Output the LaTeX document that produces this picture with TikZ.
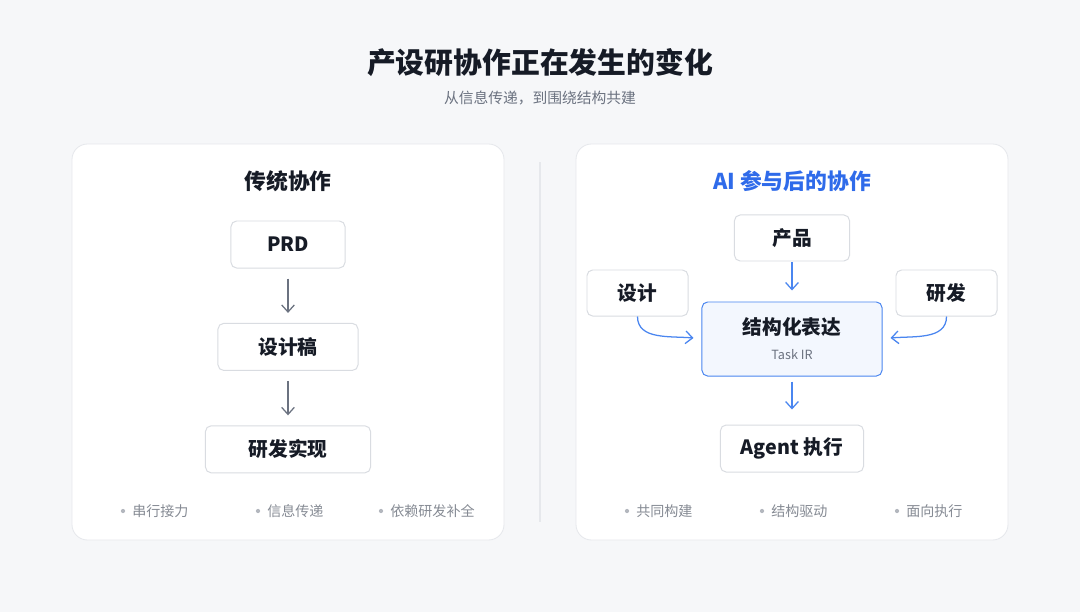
\documentclass[tikz,border=0pt]{standalone}
\usepackage{fontspec}
\setmainfont{Noto Sans CJK SC}
\usetikzlibrary{positioning,arrows.meta,calc}

\definecolor{pagebg}{HTML}{F6F7F9}
\definecolor{cardline}{HTML}{E6E8EC}
\definecolor{boxline}{HTML}{D9DCE1}
\definecolor{ink}{HTML}{161B26}
\definecolor{subgray}{HTML}{6B7280}
\definecolor{notegray}{HTML}{868B94}
\definecolor{dotgray}{HTML}{B3B7BE}
\definecolor{arrowgray}{HTML}{6B7280}
\definecolor{aiblue}{HTML}{2F6BEA}
\definecolor{linkblue}{HTML}{4A86F0}
\definecolor{irfill}{HTML}{F3F7FE}

\newcommand{\fsz}[1]{\fontsize{#1}{1.2\dimexpr #1\relax}\selectfont}

\begin{document}
\begin{tikzpicture}[x=0.025cm, y=-0.025cm]

	\tikzset{
	card/.style={draw=cardline, fill=white, rounded corners=11pt, line width=0.6pt},
	stepbox/.style={draw=boxline, fill=white, rounded corners=4pt, line width=0.7pt,
		text=ink, inner sep=0pt, minimum height=1.175cm, font=\fsz{14pt}\bfseries},
	heading/.style={font=\fsz{15.5pt}\bfseries},
	note/.style={anchor=west, text=notegray, font=\fsz{10pt}, inner sep=0pt},
	flowgray/.style={draw=arrowgray, line width=0.9pt, -{Straight Barb[length=5pt,width=9pt]}},
	flowblue/.style={draw=linkblue, line width=0.9pt, -{Straight Barb[length=5pt,width=9pt]}}
	}

	% Background
	\useasboundingbox[fill=pagebg] (0,0) rectangle (1080,612);

	% Title
	\node[text=ink, font=\fsz{20.5pt}\bfseries] (title) at (540,63) {产设研协作正在发生的变化};
	\node[text=subgray, font=\fsz{10.5pt}] (subtitle) at (540,98) {从信息传递，到围绕结构共建};

	% Panels
	\draw[card] (72,144) rectangle (504,540);
	\draw[card] (576,144) rectangle (1008,540);
	\draw[cardline, line width=0.8pt] (540,162) -- (540,522);

	% Left: traditional
	\node[heading, text=ink] (oldhead) at (288,181) {传统协作};
	\node[stepbox, minimum width=2.85cm] (prd) at (288,244.5) {PRD};
	\node[stepbox, minimum width=3.5cm, below=1.36cm of prd] (draft) {设计稿};
	\node[stepbox, minimum width=4.125cm, below=1.36cm of draft] (impl) {研发实现};

	\draw[flowgray, shorten <=10*0.025cm, shorten >=10*0.025cm] (prd) -- (draft);
	\draw[flowgray, shorten <=10*0.025cm, shorten >=10*0.025cm] (draft) -- (impl);

	\node[note] (old1) at (132,511) {串行接力};
	\node[note] (old2) at (267,511) {信息传递};
	\node[note] (old3) at (390,511) {依赖研发补全};

	% Right: with AI
	\node[heading, text=aiblue] (newhead) at (792,181) {AI 参与后的协作};
	\node[stepbox, minimum width=4.5cm, minimum height=1.85cm, draw=linkblue, fill=irfill,
		align=center] (ir) at (792,339) {结构化表达\\[1pt]{\fsz{9pt}\mdseries\color{subgray}Task IR}};
	\node[stepbox, minimum width=2.875cm, minimum height=1.15cm, above=1cm of ir] (product) {产品};
	\node[stepbox, minimum width=2.525cm, minimum height=1.15cm] (design) at (637.5,293) {设计};
	\node[stepbox, minimum width=2.525cm, minimum height=1.15cm] (dev) at (946.5,293) {研发};
	\node[stepbox, minimum width=3.575cm, below=1.2cm of ir] (agent) {Agent 执行};

	\draw[flowblue, shorten <=1*0.025cm, shorten >=11*0.025cm] (product) -- (ir);
	\draw[flowblue] (design.south) to[out=-90, in=175] ($(ir.west)+(-8,-1)$);
	\draw[flowblue] (dev.south) to[out=-90, in=5] ($(ir.east)+(8,-1)$);
	\draw[flowblue, shorten <=5*0.025cm, shorten >=15*0.025cm] (ir) -- (agent);

	\node[note] (new1) at (636,511) {共同构建};
	\node[note] (new2) at (771,511) {结构驱动};
	\node[note] (new3) at (906,511) {面向执行};

	% Bullet dots
	\foreach \n in {old1,old2,old3,new1,new2,new3}
		\fill[dotgray] ($(\n.west)+(-9,0)$) circle (1.5pt);

\end{tikzpicture}
\end{document}
